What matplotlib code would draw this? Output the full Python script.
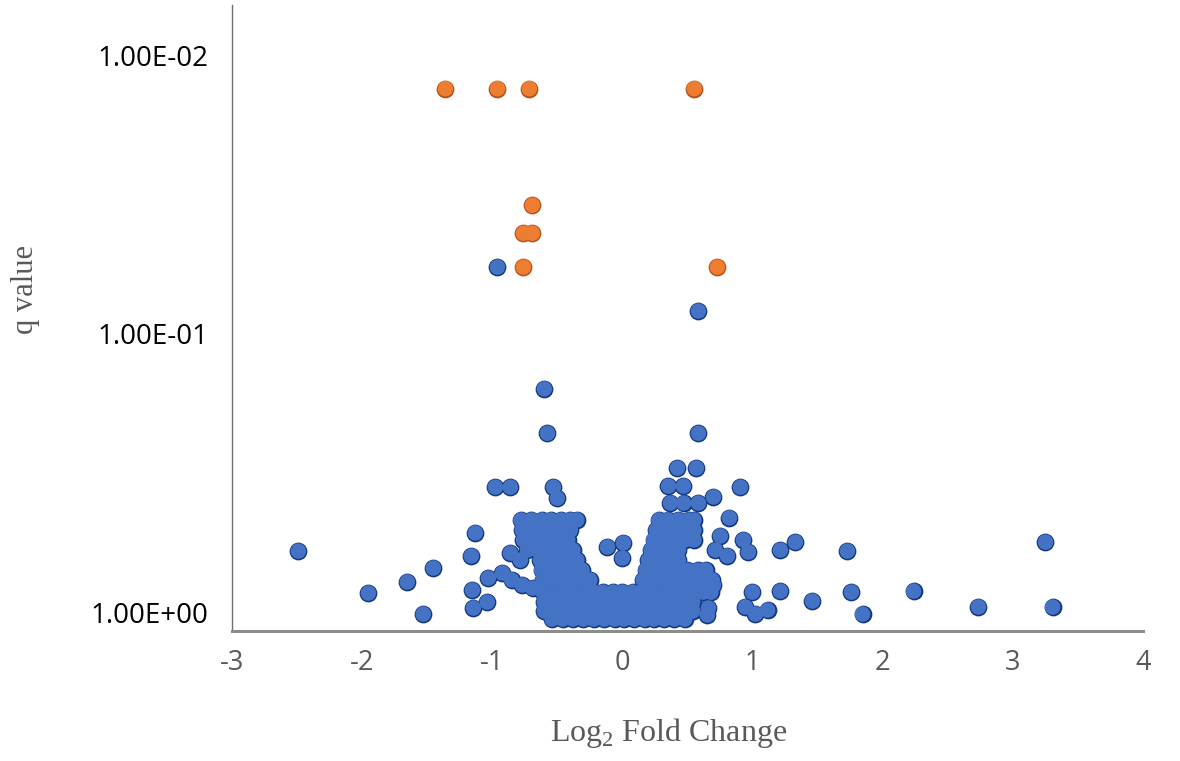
import matplotlib
matplotlib.use("Agg")
import matplotlib.pyplot as plt

# significant genes (orange)
sig_lfc = [-1.36, -0.96, -0.715, 0.553, -0.692, -0.761, -0.692, -0.761, 0.730]
sig_q = [0.0132, 0.0132, 0.0132, 0.0132, 0.0346, 0.0436, 0.0436, 0.0577, 0.0577]

# scattered non-significant genes (blue)
ns_lfc = [-0.96, 0.584, -0.600, -0.576, 0.584, 0.423, 0.569, -0.976, -0.861, -0.530,
          -0.500, 0.354, 0.469, 0.907, 0.700, 0.584, 0.369, 0.47, 0.822, 0.753,
          0.930, 0.715, 0.807, 0.968, 1.214, 1.330, 1.729, 3.251, -2.490, -1.130,
          -1.161, -1.453, -1.653, -1.952, -1.530, -1.153, -1.145, -1.038, -1.030, -0.922,
          -0.861, -0.784, -0.85, -0.77, -0.69, -0.115, 0.008, 0.0, 0.999, 1.214,
          1.460, 1.760, 2.237, 2.736, 3.305, 1.845, 0.945, 1.022, 1.115, 0.661,
          0.653, 0.70]
ns_q = [0.0577, 0.0830, 0.158, 0.228, 0.228, 0.304, 0.304, 0.356, 0.356, 0.356,
        0.390, 0.353, 0.353, 0.356, 0.386, 0.406, 0.406, 0.406, 0.459, 0.533,
        0.551, 0.599, 0.629, 0.609, 0.599, 0.561, 0.604, 0.561, 0.604, 0.520,
        0.629, 0.695, 0.780, 0.855, 1.017, 0.834, 0.967, 0.921, 0.755, 0.724,
        0.614, 0.651, 0.767, 0.80, 0.82, 0.584, 0.565, 0.640, 0.848, 0.841,
        0.913, 0.848, 0.841, 0.959, 0.959, 1.017, 0.959, 1.017, 0.983, 0.967,
        1.025, 0.80]

# dense cloud of genes near the bottom (blue)
cloud_lfc = [
    # left arm
    -0.78, -0.70, -0.62, -0.55, -0.47, -0.40, -0.35,
    -0.77, -0.69, -0.61, -0.54, -0.46, -0.40,
    -0.76, -0.68, -0.60, -0.53, -0.46, -0.42,
    -0.73, -0.65, -0.58, -0.50, -0.43, -0.38,
    -0.63, -0.56, -0.48, -0.41, -0.35,
    -0.62, -0.54, -0.46, -0.38, -0.31,
    -0.61, -0.53, -0.45, -0.37, -0.29, -0.25,
    # right arm
    0.28, 0.35, 0.43, 0.51, 0.55,
    0.26, 0.34, 0.42, 0.50, 0.55,
    0.24, 0.32, 0.40, 0.48, 0.55,
    0.22, 0.30, 0.38, 0.43,
    0.20, 0.28, 0.36, 0.43,
    0.18, 0.26, 0.34, 0.42, 0.50, 0.58, 0.64,
    0.16, 0.24, 0.32, 0.40, 0.48, 0.56, 0.64, 0.69,
    # bottom
    -0.61, -0.53, -0.45, -0.38, -0.30, -0.22, -0.15, -0.07, 0.00, 0.08, 0.15, 0.23, 0.31, 0.38, 0.46, 0.54, 0.62, 0.68,
    -0.60, -0.52, -0.44, -0.37, -0.29, -0.21, -0.14, -0.06, 0.01, 0.09, 0.17, 0.24, 0.32, 0.40, 0.47, 0.54,
    -0.60, -0.52, -0.44, -0.37, -0.29, -0.21, -0.14, -0.06, 0.01, 0.09, 0.17, 0.24, 0.32, 0.40, 0.47, 0.54,
    -0.54, -0.46, -0.38, -0.30, -0.22, -0.14, -0.06, 0.01, 0.09, 0.17, 0.24, 0.32, 0.40, 0.48,
]
cloud_q = (
    [0.467] * 7 + [0.508] * 6 + [0.551] * 6 + [0.599] * 6 + [0.651] * 5 + [0.707] * 5 + [0.767] * 6
    + [0.467] * 5 + [0.508] * 5 + [0.551] * 5 + [0.599] * 4 + [0.651] * 4 + [0.707] * 7 + [0.767] * 8
    + [0.848] * 18 + [0.921] * 16 + [0.992] * 16 + [1.06] * 14
)

y_ticks = [1e-2, 1e-1, 1e0]
y_tick_labels = ["1.00E-02", "1.00E-01", "1.00E+00"]
x_ticks = [-3, -2, -1, 0, 1, 2, 3, 4]

blue, blue_edge = "#4472C4", "#12367F"
orange, orange_edge = "#ED7D31", "#B4501B"

plt.rcParams["mathtext.fontset"] = "custom"
plt.rcParams["mathtext.rm"] = "Liberation Serif"

fig = plt.figure(figsize=(11.8, 7.61), dpi=100)
ax = fig.add_axes([0.1966, 0.1708, 0.772, 0.8226])

all_blue_x = ns_lfc + cloud_lfc
all_blue_y = ns_q + cloud_q
size = 125
# outline pass then fill pass so overlapping markers merge into one shape
ax.scatter(all_blue_x, all_blue_y, s=size, c=blue, edgecolors=blue_edge, linewidths=1.6, zorder=2)
ax.scatter(all_blue_x, all_blue_y, s=size, c=blue, edgecolors="none", zorder=3)
ax.scatter(sig_lfc, sig_q, s=size, c=orange, edgecolors=orange_edge, linewidths=1.6, zorder=2)
ax.scatter(sig_lfc, sig_q, s=size, c=orange, edgecolors="none", zorder=3)

ax.set_yscale("log")
ax.set_ylim(1.17, 0.00661)
ax.set_xlim(-3, 4)
ax.set_yticks(y_ticks)
ax.set_yticklabels(y_tick_labels)
ax.minorticks_off()
ax.set_xticks(x_ticks)
ax.set_xticklabels([str(v) for v in x_ticks])

for s in ["top", "right"]:
    ax.spines[s].set_visible(False)
ax.spines["left"].set_color("#6e6e6e")
ax.spines["left"].set_linewidth(1.0)
ax.spines["bottom"].set_color("#8c8c8c")
ax.spines["bottom"].set_linewidth(2.2)

ax.tick_params(axis="y", length=0, pad=17, labelsize=20, labelcolor="black")
ax.tick_params(axis="x", length=0, pad=13, labelsize=19.5, labelcolor="#595959")
for lab in ax.get_xticklabels() + ax.get_yticklabels():
    lab.set_fontfamily("Open Sans")

fig.text(25 / 1180, 1 - 290 / 761, "q value", rotation=90, ha="center", va="center",
         fontsize=22, color="#595959", family="Liberation Serif")
fig.text(669 / 1180, 1 - 733 / 761, "Log$_\\mathregular{2}$ Fold Change", ha="center", va="center",
         fontsize=23, color="#595959", family="Liberation Serif")

fig.savefig("out.png", dpi=100)
